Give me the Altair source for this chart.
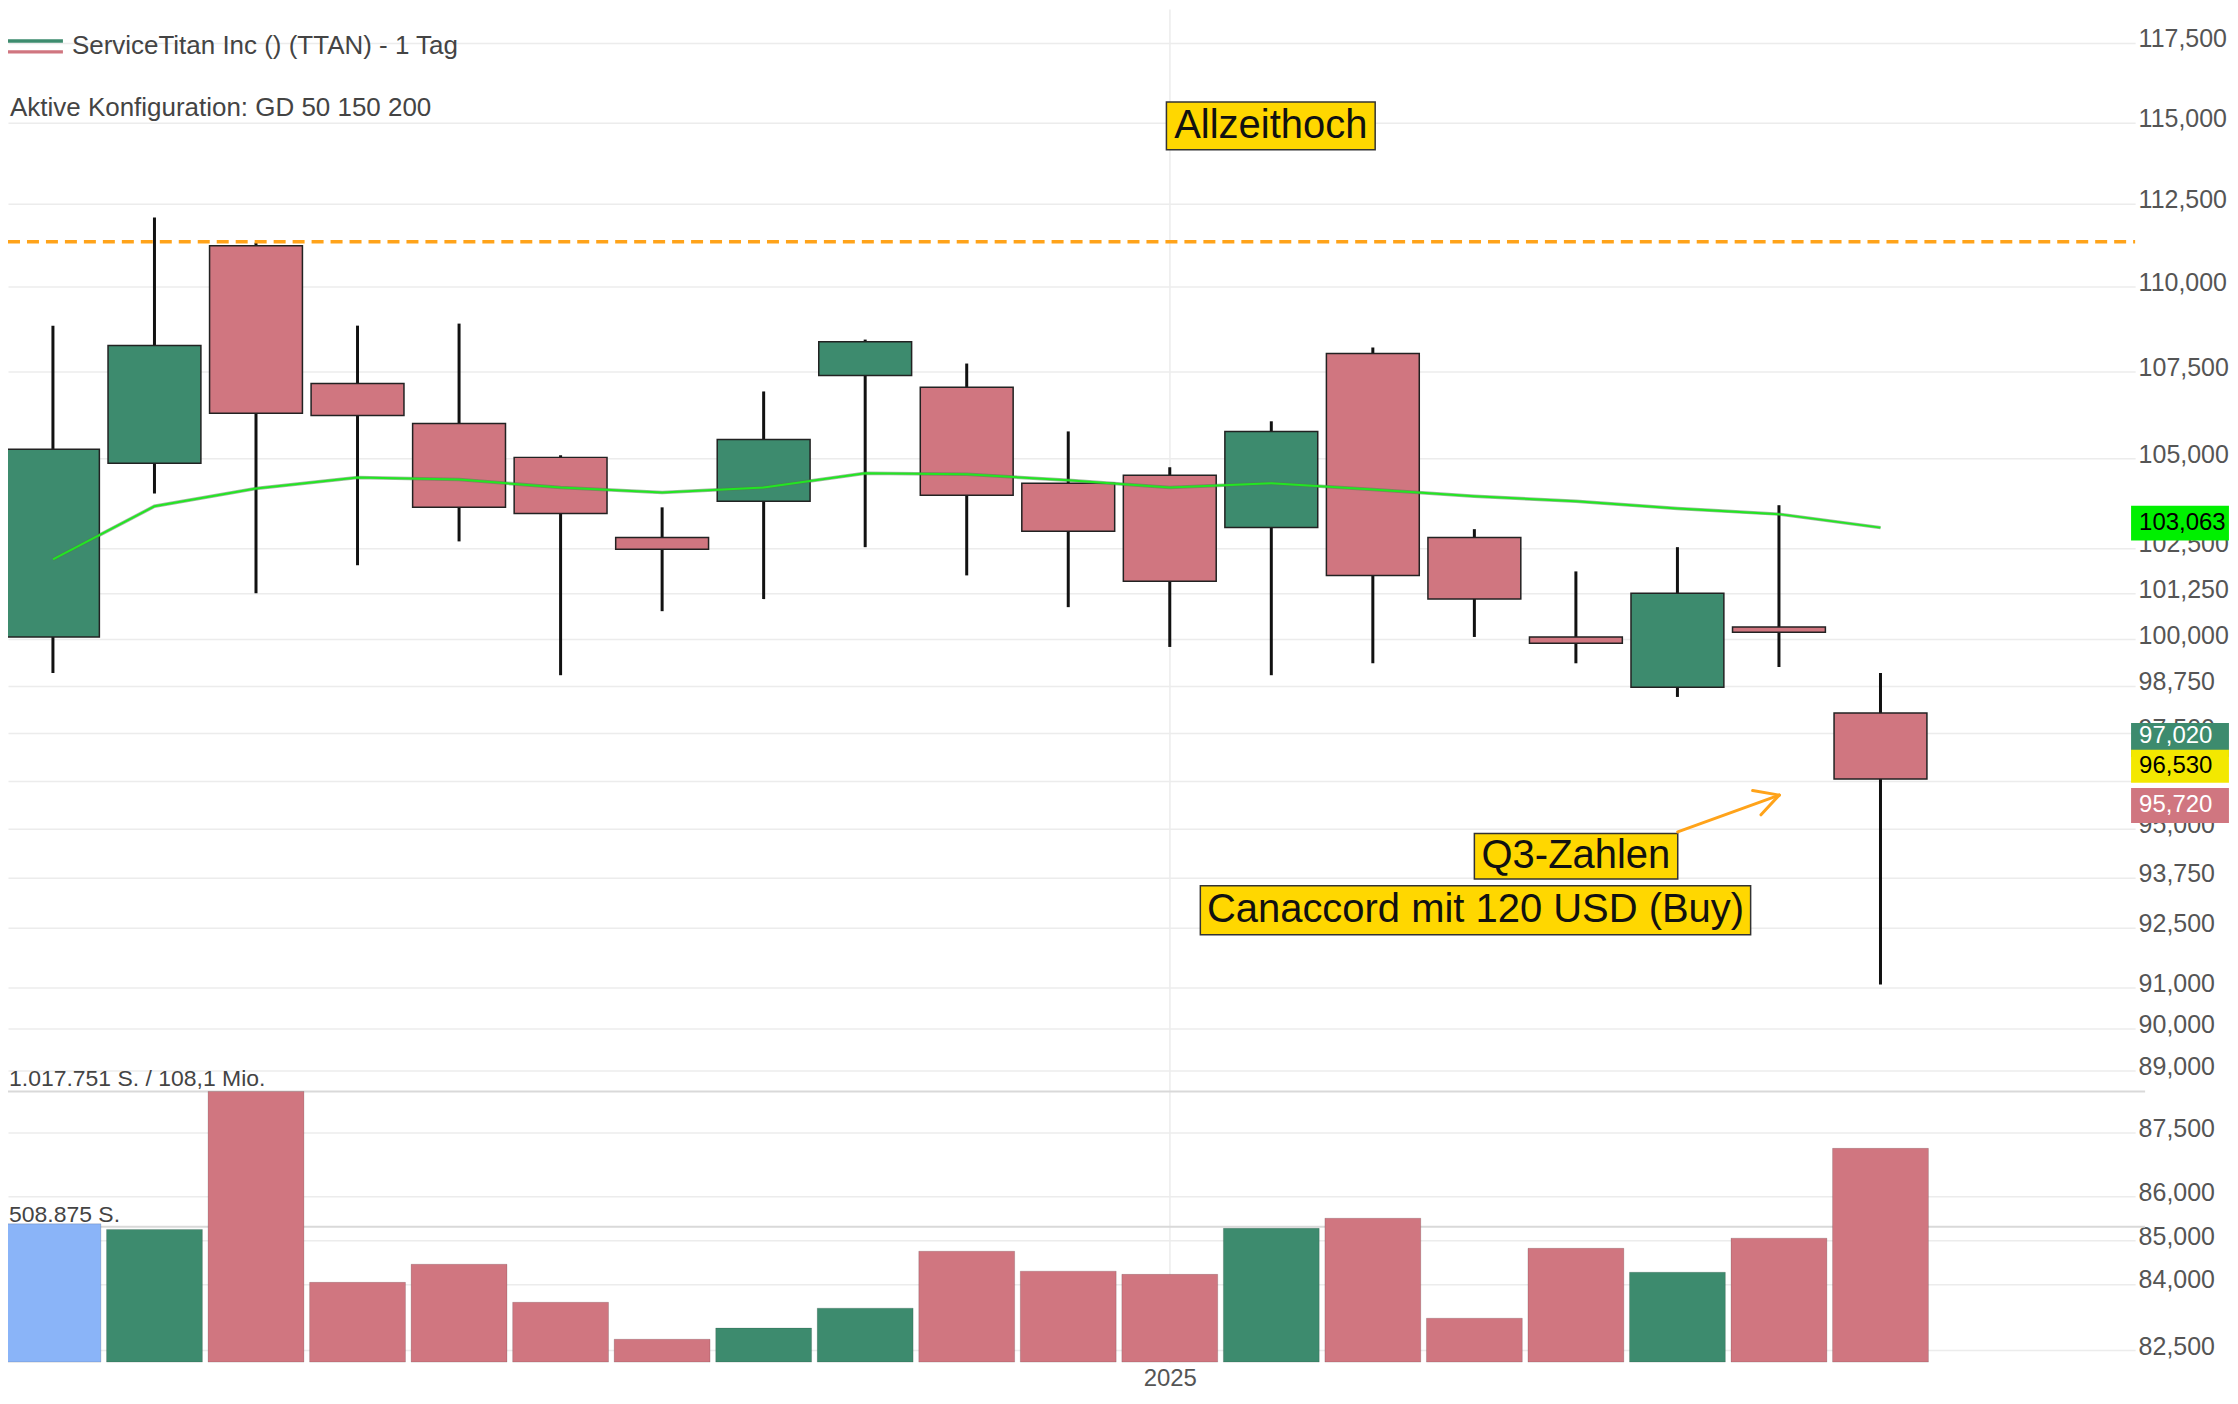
import altair as alt
import pandas as pd

# ---------------- data ----------------
opens  = [100.06, 104.87, 111.23, 107.16, 106.01, 105.04, 102.79, 103.80, 107.39, 107.05,
          104.31, 104.53, 103.07, 108.03, 102.79, 100.06, 98.71, 100.33, 98.02]
highs  = [108.85, 112.08, 111.32, 108.85, 108.91, 105.10, 103.63, 106.93, 108.44, 107.74,
          105.78, 104.76, 106.07, 108.21, 103.02, 101.85, 102.52, 103.69, 99.09]
lows   = [99.09, 104.02, 101.25, 102.02, 102.68, 99.03, 100.76, 101.09, 102.52, 101.74,
          100.87, 99.79, 99.03, 99.35, 100.06, 99.35, 98.45, 99.25, 91.08]
closes = [105.27, 108.27, 106.30, 106.24, 103.63, 103.46, 102.46, 105.55, 108.38, 103.97,
          102.96, 101.58, 105.78, 101.74, 101.09, 99.89, 101.25, 100.19, 96.29]
volumes = [520000, 499000, 1017751, 300000, 368000, 225000, 86000, 128000, 203000, 417000,
           342000, 330000, 503000, 541000, 165000, 428000, 338000, 466000, 804000]
ma_values = [102.18, 103.66, 104.16, 104.47, 104.41, 104.19, 104.05, 104.19, 104.59, 104.56,
             104.39, 104.19, 104.31, 104.13, 103.94, 103.80, 103.60, 103.44, 103.063]

price_ticks = [117.5, 115, 112.5, 110, 107.5, 105, 102.5, 101.25, 100, 98.75, 97.5, 96.25,
               95, 93.75, 92.5, 91, 90, 89, 87.5, 86, 85, 84, 82.5]
hidden_tick = 96.25   # its label sits fully behind the price tags in the reference
year_tick_idx = [11]
year_label = "2025"

ath_level = [111.35]

vol_ref_values = [1017751, 508875]
vol_ref_labels = ["1.017.751 S. / 108,1 Mio.", "508.875 S."]

tag_values = [103.063, 97.02, 96.53, 95.72]

title_text = "ServiceTitan Inc () (TTAN) - 1 Tag"
config_text = "Aktive Konfiguration: GD 50 150 200"

ann_labels = ["Allzeithoch", "Q3-Zahlen", "Canaccord mit 120 USD (Buy)"]
ann_x_center = [11.995, 15.0, 14.011]
ann_y_center = [114.90, 94.31, 92.93]
ann_x0 = [10.967, 14.0, 11.301]
ann_x1 = [13.023, 16.003, 16.721]
ann_y0 = [115.64, 94.88, 93.55]
ann_y1 = [114.15, 93.72, 92.32]

arrow_x0 = [16.003, 17.003, 17.003]
arrow_y0 = [94.92, 95.87, 95.87]
arrow_x1 = [17.003, 16.741, 16.823]
arrow_y1 = [95.87, 95.99, 95.36]

# ---------------- tables ----------------
n = len(opens)
candles = pd.DataFrame({
    "idx": list(range(n)), "open": opens, "high": highs, "low": lows,
    "close": closes, "vol": volumes, "ma": ma_values,
})
candles["dir"] = ["up" if c >= o else "down" for o, c in zip(opens, closes)]
candles["vkind"] = ["first"] + candles["dir"].tolist()[1:]

ann_df = pd.DataFrame({"label": ann_labels, "xc": ann_x_center, "yc": ann_y_center,
                       "x0": ann_x0, "x1": ann_x1, "y0": ann_y0, "y1": ann_y1})
arrow_df = pd.DataFrame({"x0": arrow_x0, "y0": arrow_y0, "x1": arrow_x1, "y1": arrow_y1})
ath_df = pd.DataFrame({"level": ath_level})
volref_df = pd.DataFrame({"v": vol_ref_values, "label": vol_ref_labels})

# ---------------- styles ----------------
GREEN = "#3d8b6e"
RED = "#d07680"
BLUE = "#8ab4f8"
ORANGE = "#ffa31a"
GOLD = "#ffd700"
FONT = "Liberation Sans"

W, H = 2130, 1355

xscale = alt.Scale(domain=[-0.4426, 20.508], nice=False, zero=False, padding=0)
xaxis = alt.Axis(values=year_tick_idx, labelExpr="'%s'" % year_label, grid=True,
                 gridColor="#ececec", gridWidth=1.5, domain=False, ticks=False,
                 labelFontSize=24, labelColor="#555555", labelPadding=4, title=None)

yscale = alt.Scale(type="log", domain=[82.24, 118.585], nice=False, zero=False, padding=0)
yaxis = alt.Axis(orient="right", values=price_ticks,
                 labelExpr="datum.value == %s ? '' : replace(format(datum.value, '.3f'), '.', ',')" % hidden_tick,
                 grid=True, gridColor="#ececec", gridWidth=1.5, domain=False, ticks=False,
                 labelFontSize=25, labelColor="#555555", labelPadding=3, labelOffset=-4,
                 labelOverlap=False, title=None)

vscale = alt.Scale(domain=[0, 5088800], nice=False, padding=0)

colscale = alt.Scale(domain=["first", "up", "down"], range=[BLUE, GREEN, RED])


def X(f):
    return alt.X(f, type="quantitative", scale=xscale, axis=xaxis)


def Y(f):
    return alt.Y(f, type="quantitative", scale=yscale, axis=yaxis)


def VY(f):
    return alt.Y(f, type="quantitative", scale=vscale, axis=None)


# ---------------- volume pane ----------------
vol_lines = alt.Chart(volref_df).mark_rule(color="#d9d9d9", strokeWidth=2).encode(
    y=VY("v"), x=alt.value(0), x2=alt.value(2140))
vol_bars = alt.Chart(candles).mark_bar(size=96, stroke="black", strokeOpacity=0.15,
                                       strokeWidth=1).encode(
    x=X("idx"), y=VY("vol"),
    color=alt.Color("vkind:N", scale=colscale, legend=None))
vol_text = alt.Chart(volref_df).mark_text(align="left", baseline="alphabetic", dy=-5,
                                          fontSize=23, color="#444444").encode(
    y=VY("v"), x=alt.value(1), text="label:N")
vol_layer = alt.layer(vol_lines, vol_bars, vol_text)

# ---------------- price pane ----------------
wicks = alt.Chart(candles).mark_rule(color="#111111", strokeWidth=3).encode(
    x=X("idx"), y=Y("low"), y2=alt.Y2("high"))
bodies = alt.Chart(candles).mark_bar(size=93, stroke="#222222", strokeWidth=1.5).encode(
    x=X("idx"), y=Y("open"), y2=alt.Y2("close"),
    color=alt.Color("dir:N", scale=colscale, legend=None))
ma_shadow = alt.Chart(candles).mark_line(color="#4f7f4f", strokeWidth=3.5, opacity=0.55).encode(
    x=X("idx"), y=Y("ma"))
ma_line = alt.Chart(candles).mark_line(color="#22e622", strokeWidth=2).encode(
    x=X("idx"), y=Y("ma"))
ath = alt.Chart(ath_df).mark_rule(color=ORANGE, strokeWidth=3.5, strokeDash=[12, 7]).encode(
    y=Y("level"), x=alt.value(0), x2=alt.value(W))
ann_boxes = alt.Chart(ann_df).mark_rect(fill=GOLD, stroke="#333333", strokeWidth=1.5).encode(
    x=X("x0"), x2=alt.X2("x1"), y=Y("y0"), y2=alt.Y2("y1"))
ann_text = alt.Chart(ann_df).mark_text(fontSize=40, color="#111111", align="center",
                                       baseline="middle").encode(
    x=X("xc"), y=Y("yc"), text="label:N")
arrow = alt.Chart(arrow_df).mark_rule(color=ORANGE, strokeWidth=3, strokeCap="round").encode(
    x=X("x0"), x2=alt.X2("x1"), y=Y("y0"), y2=alt.Y2("y1"))

# price tags on the right edge
tag_fills = ["#00f000", GREEN, "#f3e800", RED]
tag_text_colors = ["#000000", "#ffffff", "#000000", "#ffffff"]
tag_box_offsets = [-4.5, -11, -3.5, 4.5]
tag_text_offsets = [-4.5, -15, -3.5, 4.5]
tag_sizes = [35, 34, 33, 35]
tag_layers = []
for v, fill, tc, boff, toff, sz in zip(tag_values, tag_fills, tag_text_colors,
                                        tag_box_offsets, tag_text_offsets, tag_sizes):
    tdf = pd.DataFrame({"value": [v], "a": [20.468], "b": [21.432], "tx": [20.547]})
    base = alt.Chart(tdf).transform_calculate(
        lab="replace(format(datum.value, '.3f'), '.', ',')")
    tag_layers.append(base.mark_bar(size=sz, color=fill, yOffset=boff).encode(
        x=X("a"), x2=alt.X2("b"), y=Y("value")))
    tag_layers.append(base.mark_text(align="left", baseline="middle", fontSize=24, color=tc,
                                     dy=toff).encode(
        x=X("tx"), y=Y("value"), text="lab:N"))

# header
hdr_df = pd.DataFrame({"t": [title_text], "c": [config_text]})
legend_green = alt.Chart(hdr_df).mark_rule(color=GREEN, strokeWidth=3.5).encode(
    x=alt.value(0), x2=alt.value(55), y=alt.value(32))
legend_red = alt.Chart(hdr_df).mark_rule(color=RED, strokeWidth=3.5).encode(
    x=alt.value(0), x2=alt.value(55), y=alt.value(43))
title_mark = alt.Chart(hdr_df).mark_text(align="left", baseline="middle", fontSize=26,
                                         color="#444444").encode(
    x=alt.value(64), y=alt.value(37), text="t:N")
config_mark = alt.Chart(hdr_df).mark_text(align="left", baseline="middle", fontSize=26,
                                          color="#444444").encode(
    x=alt.value(2), y=alt.value(99), text="c:N")

price_layer = alt.layer(wicks, bodies, ma_shadow, ma_line, ath, ann_boxes, ann_text, arrow,
                        *tag_layers, legend_green, legend_red, title_mark, config_mark)

chart = alt.layer(vol_layer, price_layer).resolve_scale(y="independent").properties(
    width=W, height=H,
    autosize=alt.AutoSizeParams(type="none"),
    padding={"left": 0, "top": 0, "right": 95, "bottom": 29},
    background="white",
).configure(font=FONT).configure_view(stroke=None)

chart.save("out.html", embed_options={"renderer": "svg", "actions": False})
